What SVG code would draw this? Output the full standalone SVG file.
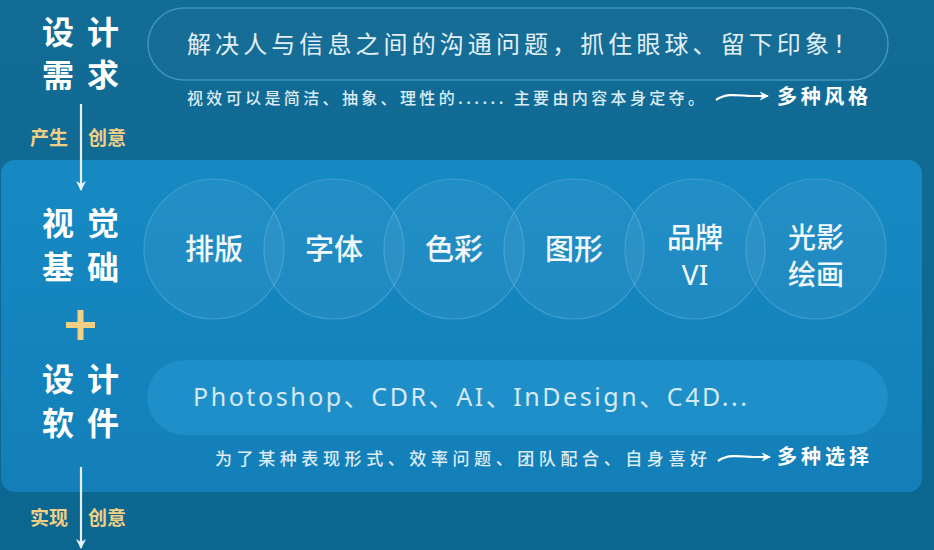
<svg xmlns="http://www.w3.org/2000/svg" width="934" height="550" viewBox="0 0 934 550">
<defs>
<linearGradient id="bg" x1="0" y1="0" x2="0" y2="1">
<stop offset="0" stop-color="#126c95"/>
<stop offset="1" stop-color="#0b6690"/>
</linearGradient>
<linearGradient id="panel" x1="0" y1="0" x2="0" y2="1">
<stop offset="0" stop-color="#1689c3"/>
<stop offset="1" stop-color="#137fb8"/>
</linearGradient>
<marker id="ah" viewBox="0 0 12 12" refX="10" refY="6" markerWidth="12" markerHeight="12" markerUnits="userSpaceOnUse" orient="auto">
<path d="M1,1 L11,6 L1,11 L4,6 Z" fill="#e8f2f8"/>
</marker>
<marker id="ahs" viewBox="0 0 12 12" refX="10" refY="6" markerWidth="11" markerHeight="11" markerUnits="userSpaceOnUse" orient="auto">
<path d="M1,1 L11,6 L1,11 L4,6 Z" fill="#ffffff"/>
</marker>
</defs>
<style>
.head{font-family:"Noto Sans CJK SC","Noto Sans",sans-serif;font-weight:700;font-size:32px;fill:#ffffff;letter-spacing:13px}
.gold{font-family:"Noto Sans CJK SC",sans-serif;font-weight:700;font-size:19px;fill:#f1cf85}
.main{font-family:"Noto Sans CJK SC",sans-serif;font-weight:400;font-size:24px;fill:#e3eff6}
.sub{font-family:"Noto Sans CJK SC",sans-serif;font-weight:500;font-size:16px;fill:#dcebf4}
.tag{font-family:"Noto Sans CJK SC",sans-serif;font-weight:700;font-size:20px;fill:#ffffff}
.ctext{font-family:"Noto Sans CJK SC","Noto Sans",sans-serif;font-weight:500;font-size:29px;fill:#f2f8fb;text-anchor:middle}
.ctext2{font-family:"Noto Sans CJK SC","Noto Sans",sans-serif;font-weight:500;font-size:28px;fill:#f2f8fb;text-anchor:middle}
.soft{font-family:"Noto Sans","Noto Sans CJK SC",sans-serif;font-weight:400;font-size:25px;fill:#d6e9f4}
.circ{fill:#ffffff;fill-opacity:0.05;stroke:#7fc4e8;stroke-opacity:0.35;stroke-width:1.2}
.conn{stroke:#e6f0f6;stroke-width:2.2;fill:none}
</style>
<rect x="0" y="0" width="934" height="550" fill="url(#bg)"/>
<rect id="panel-bg" x="1" y="160" width="921" height="332" rx="14" fill="url(#panel)"/>

<g id="connectors">
<line class="conn" x1="81" y1="104" x2="81" y2="190" marker-end="url(#ah)"/>
<line class="conn" x1="81" y1="467" x2="81" y2="548" marker-end="url(#ah)"/>
<path d="M716,100 C728,92 740,96 752,96 L768,96" stroke="#ffffff" stroke-width="2.2" fill="none" marker-end="url(#ahs)"/>
<path d="M718,461 C730,453 742,457 754,457 L770,457" stroke="#ffffff" stroke-width="2.2" fill="none" marker-end="url(#ahs)"/>
</g>

<g id="design-needs">
<text class="head"><tspan x="42" y="44">设计</tspan><tspan x="42" y="87">需求</tspan></text>
</g>
<g id="needs-pill">
<rect x="148" y="8" width="740" height="72" rx="36" fill="#ffffff" fill-opacity="0.02" stroke="#4ea6d4" stroke-opacity="0.7" stroke-width="1.5"/>
<text class="main" x="187" y="53" textLength="670" lengthAdjust="spacing">解决人与信息之间的沟通问题，抓住眼球、留下印象！</text>
</g>
<g id="needs-note">
<text class="sub" x="187" y="104" textLength="517" lengthAdjust="spacing">视效可以是简洁、抽象、理性的...... 主要由内容本身定夺。</text>
</g>
<g id="styles">
<text class="tag" x="777" y="104" textLength="91" lengthAdjust="spacing">多种风格</text>
</g>
<g id="label-create1">
<text class="gold" x="30" y="145">产生</text>
<text class="gold" x="88" y="145">创意</text>
</g>

<g id="visual-basics">
<text class="head"><tspan x="42" y="235">视觉</tspan><tspan x="42" y="279">基础</tspan></text>
</g>
<g id="c1"><circle class="circ" cx="214" cy="249" r="70"/><text class="ctext" x="214" y="260">排版</text></g>
<g id="c2"><circle class="circ" cx="334" cy="249" r="70"/><text class="ctext" x="334" y="260">字体</text></g>
<g id="c3"><circle class="circ" cx="454" cy="249" r="70"/><text class="ctext" x="454" y="260">色彩</text></g>
<g id="c4"><circle class="circ" cx="574" cy="249" r="70"/><text class="ctext" x="574" y="260">图形</text></g>
<g id="c5"><circle class="circ" cx="695" cy="249" r="70"/><text class="ctext2"><tspan x="695" y="248">品牌</tspan><tspan x="695" y="285" style="font-family:'Noto Sans',sans-serif;font-weight:400">VI</tspan></text></g>
<g id="c6"><circle class="circ" cx="816" cy="249" r="70"/><text class="ctext2"><tspan x="816" y="248">光影</tspan><tspan x="816" y="285">绘画</tspan></text></g>

<g id="plus">
<rect x="66" y="322" width="29" height="6" fill="#f1cf85"/>
<rect x="77.5" y="310" width="6" height="30" fill="#f1cf85"/>
</g>

<g id="design-software">
<text class="head"><tspan x="42" y="391">设计</tspan><tspan x="42" y="435">软件</tspan></text>
</g>
<g id="software-pill">
<rect x="147" y="360" width="741" height="75" rx="37.5" fill="#2aa0da" fill-opacity="0.45"/>
<text class="soft" x="193" y="406" textLength="554" lengthAdjust="spacing">Photoshop、CDR、AI、InDesign、C4D...</text>
</g>
<g id="software-note">
<text class="sub" x="215" y="465" textLength="492" lengthAdjust="spacing" style="font-size:17px">为了某种表现形式、效率问题、团队配合、自身喜好</text>
</g>
<g id="choices">
<text class="tag" x="777" y="464" textLength="92" lengthAdjust="spacing">多种选择</text>
</g>
<g id="label-create2">
<text class="gold" x="30" y="525">实现</text>
<text class="gold" x="88" y="525">创意</text>
</g>
</svg>
